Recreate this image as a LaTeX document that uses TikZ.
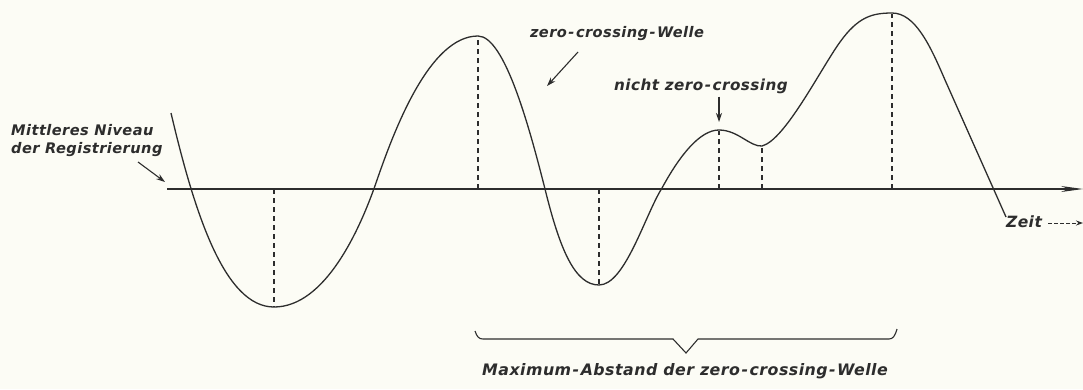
\documentclass[tikz,border=0pt]{standalone}
\usepackage{fontspec}
\setsansfont[LetterSpace=3]{DejaVu Sans}
\usetikzlibrary{arrows.meta}
\definecolor{paper}{RGB}{252,252,245}
\definecolor{ink}{RGB}{45,45,45}
\newcommand{\hy}{\kern1.5pt-\kern1.5pt}
\begin{document}
\begin{tikzpicture}[x=1pt,y=-1pt,
  curve/.style={ink,line width=1.3pt},
  guide/.style={ink,line width=1.1pt,dash pattern=on 5pt off 4pt},
  lbl/.style={font=\fontsize{#1}{18}\selectfont\sffamily\bfseries\itshape,text=ink,inner sep=0pt},
  lbl/.default=16,
  ptr/.style={ink,line width=1.1pt,-{Stealth[length=9pt,width=6pt]}}]
\fill[paper] (0,0) rectangle (1083,389);
\useasboundingbox (0,0) rectangle (1083,389);
% axis
\coordinate (a0) at (167,189);
\coordinate (a1) at (1083,189);
\draw[curve,-{Stealth[length=22pt,width=6pt]}] (a0) -- (a1);
% curve
\draw[curve] (171,113) .. controls (195,215) and (225,307) .. (274,307)
 .. controls (325,307) and (360,230) .. (377,180)
 .. controls (395,128) and (430,36) .. (478,36)
 .. controls (505,36) and (530,130) .. (545,189)
 .. controls (560,250) and (575,285) .. (599,285)
 .. controls (625,285) and (645,215) .. (662,188)
 .. controls (680,155) and (700,130) .. (719,130)
 .. controls (738,130) and (750,147) .. (762,146)
 .. controls (785,140) and (820,70) .. (840,42)
 .. controls (858,17) and (872,13) .. (892,13)
 .. controls (915,13) and (930,45) .. (945,80)
 -- (1006,217);
% dashed guides
\draw[guide] (274,189) -- (274,307);
\draw[guide] (478,189) -- (478,37);
\draw[guide] (599,189) -- (599,285);
\draw[guide] (719,189) -- (719,131);
\draw[guide] (762,189) -- (762,147);
\draw[guide] (892,189) -- (892,14);
% labels
\node[lbl=14.6,anchor=west,align=left] (mitt) at (11,141) {Mittleres Niveau\\der Registrierung};
\coordinate (m0) at (138,162);
\coordinate (m1) at (165,182);
\draw[ptr] (m0) -- (m1);
\node[lbl=14.6] (zcw) at (617,34) {zero\hy crossing\hy Welle};
\coordinate (z0) at (578,52);
\coordinate (z1) at (547,86);
\draw[ptr] (z0) -- (z1);
\node[lbl=15.2] (nzc) at (701,86) {nicht zero\hy crossing};
\coordinate (n1) at (719,122);
\draw[ptr] (nzc.south -| n1) ++(0,3) -- (n1);
\node[lbl=15.5] (zeit) at (1024,222) {Zeit};
\coordinate (t1) at (1083,223);
\draw[ink,line width=1pt,dash pattern=on 4pt off 2pt,-{Stealth[length=7pt,width=5pt]}] (zeit.east |- t1) ++(6,0) -- (t1);
% brace
\draw[ink,line width=1.1pt] (475,331) .. controls (477,337) and (479,339) .. (483,339) -- (673,339) -- (686,353) -- (698,339) -- (889,339) .. controls (893,339) and (895,336) .. (897,329);
\node[lbl=15.8] (maxab) at (685,371) {Maximum\hy Abstand der zero\hy crossing\hy Welle};
\end{tikzpicture}
\end{document}
